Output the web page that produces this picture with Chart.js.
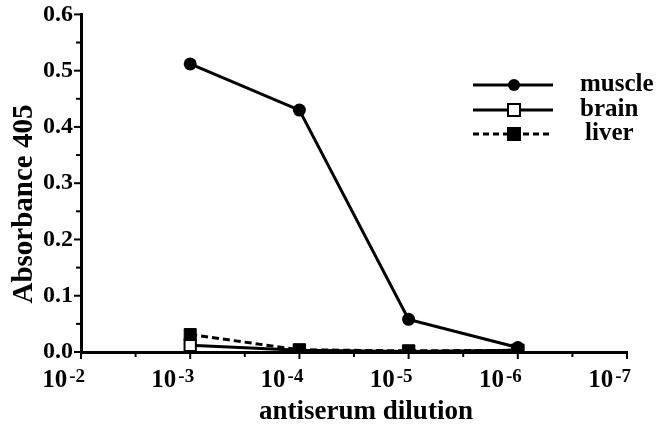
<!DOCTYPE html>
<html>
<head>
<meta charset="utf-8">
<script src="https://cdn.jsdelivr.net/npm/chart.js@4.4.0/dist/chart.umd.min.js"></script>
<style>
  html, body { margin: 0; padding: 0; background: #fff; }
  #wrap { width: 672px; height: 428px; }
</style>
</head>
<body>
<div id="wrap"><canvas id="chart" width="672" height="428"></canvas></div>
<script>
// dilution exponents (10^-n)
const dilutions = [3, 4, 5, 6];
const muscle = [0.512, 0.430, 0.058, 0.008];
const brain = [0.012, 0.003, 0.001, 0.003];
const liver = [0.031, 0.004, 0.002, 0.003];
const xTicks = [2, 3, 4, 5, 6, 7];
const yTicks = [0, 0.1, 0.2, 0.3, 0.4, 0.5, 0.6];

const FONT = '"Liberation Serif", "Times New Roman", serif';
const toPts = vals => dilutions.map((d, i) => ({ x: d, y: vals[i] }));

// minor/major ticks, x labels with superscript, axis titles and legend
const decorPlugin = {
    id: 'decor',
    afterDraw(chart) {
        const ctx = chart.ctx;
        const xs = chart.scales.x, ys = chart.scales.y;
        const bottom = chart.chartArea.bottom, left = chart.chartArea.left;
        ctx.save();
        ctx.strokeStyle = '#000';
        ctx.lineWidth = 2;
        // x ticks
        for (let v = 2; v <= 7.001; v += 0.5) {
            const px = xs.getPixelForValue(v);
            const major = Math.abs(v - Math.round(v)) < 0.01;
            ctx.beginPath();
            ctx.moveTo(px, bottom);
            ctx.lineTo(px, bottom + (major ? 7 : 5));
            ctx.stroke();
        }
        // y ticks
        for (let v = 0; v <= 0.6001; v += 0.05) {
            const py = ys.getPixelForValue(v);
            const major = Math.abs(v * 10 - Math.round(v * 10)) < 0.01;
            ctx.beginPath();
            ctx.moveTo(left, py);
            ctx.lineTo(left - (major ? 7 : 5), py);
            ctx.stroke();
        }
        // x tick labels "10^-n", right edge near the tick
        ctx.fillStyle = '#000';
        ctx.textBaseline = 'alphabetic';
        xTicks.forEach(n => {
            const px = xs.getPixelForValue(n) + 4;
            ctx.font = 'bold 19px ' + FONT;
            const exp = '-' + n;
            const ew = ctx.measureText(exp).width;
            ctx.textAlign = 'right';
            ctx.fillText(exp, px, bottom + 30);
            ctx.font = 'bold 25px ' + FONT;
            ctx.fillText('10', px - ew - 2, bottom + 35);
        });
        // axis titles
        ctx.textAlign = 'center';
        ctx.textBaseline = 'middle';
        ctx.font = 'bold 27px ' + FONT;
        ctx.fillText('antiserum dilution', 366, 412);
        ctx.save();
        ctx.translate(25, 204);
        ctx.rotate(-Math.PI / 2);
        ctx.font = 'bold 29px ' + FONT;
        ctx.fillText('Absorbance 405', 0, 0);
        ctx.restore();
        // legend
        const rows = [
            { label: 'muscle', y: 85, dash: [], style: 'circle', fill: '#000', tx: 580 },
            { label: 'brain', y: 110, dash: [], style: 'rect', fill: '#fff', tx: 580 },
            { label: 'liver', y: 134, dash: [6, 4], style: 'rect', fill: '#000', tx: 585 }
        ];
        rows.forEach(r => {
            ctx.lineWidth = 3;
            ctx.setLineDash(r.dash);
            ctx.beginPath();
            ctx.moveTo(473, r.y);
            ctx.lineTo(553, r.y);
            ctx.stroke();
            ctx.setLineDash([]);
            ctx.lineWidth = 2;
            ctx.fillStyle = r.fill;
            if (r.style === 'circle') {
                ctx.beginPath();
                ctx.arc(514, r.y, 6, 0, Math.PI * 2);
                ctx.fillStyle = '#000';
                ctx.fill();
            } else {
                ctx.fillRect(508, r.y - 6, 12, 12);
                ctx.strokeRect(508, r.y - 6, 12, 12);
            }
            ctx.fillStyle = '#000';
            ctx.font = 'bold 25px ' + FONT;
            ctx.textAlign = 'left';
            ctx.textBaseline = 'middle';
            ctx.fillText(r.label, r.tx, r.y);
        });
        ctx.restore();
    }
};

new Chart(document.getElementById('chart').getContext('2d'), {
    type: 'line',
    data: {
        datasets: [
            {
                label: 'liver', data: toPts(liver), order: 0,
                borderColor: '#000', borderWidth: 3, borderDash: [7, 4],
                pointStyle: 'rect', pointRadius: 8.5, pointBackgroundColor: '#000', pointBorderColor: '#000', pointBorderWidth: 1
            },
            {
                label: 'muscle', data: toPts(muscle), order: 1,
                borderColor: '#000', borderWidth: 3,
                pointStyle: 'circle', pointRadius: 6.5, pointBackgroundColor: '#000', pointBorderColor: '#000', pointBorderWidth: 0
            },
            {
                label: 'brain', data: toPts(brain), order: 2,
                borderColor: '#000', borderWidth: 3,
                pointStyle: 'rect', pointRadius: 8, pointBackgroundColor: '#fff', pointBorderColor: '#000', pointBorderWidth: 2
            }
        ]
    },
    options: {
        responsive: false,
        animation: false,
        layout: { padding: { left: 0, top: 8, right: 45, bottom: 0 } },
        plugins: { legend: { display: false }, tooltip: { enabled: false } },
        scales: {
            x: {
                type: 'linear', min: 2, max: 7,
                grid: { display: false },
                border: { display: true, color: '#000', width: 3 },
                ticks: { display: false },
                afterFit: s => { s.height = 76; }
            },
            y: {
                min: 0, max: 0.6,
                afterBuildTicks: s => { s.ticks = yTicks.map(v => ({ value: v })); },
                grid: { display: false },
                border: { display: true, color: '#000', width: 3 },
                ticks: { color: '#000', font: { family: FONT, size: 24, weight: 'bold' }, padding: 0, callback: v => v.toFixed(1) },
                afterFit: s => { s.width = 81; }
            }
        }
    },
    plugins: [decorPlugin]
});
</script>
</body>
</html>
